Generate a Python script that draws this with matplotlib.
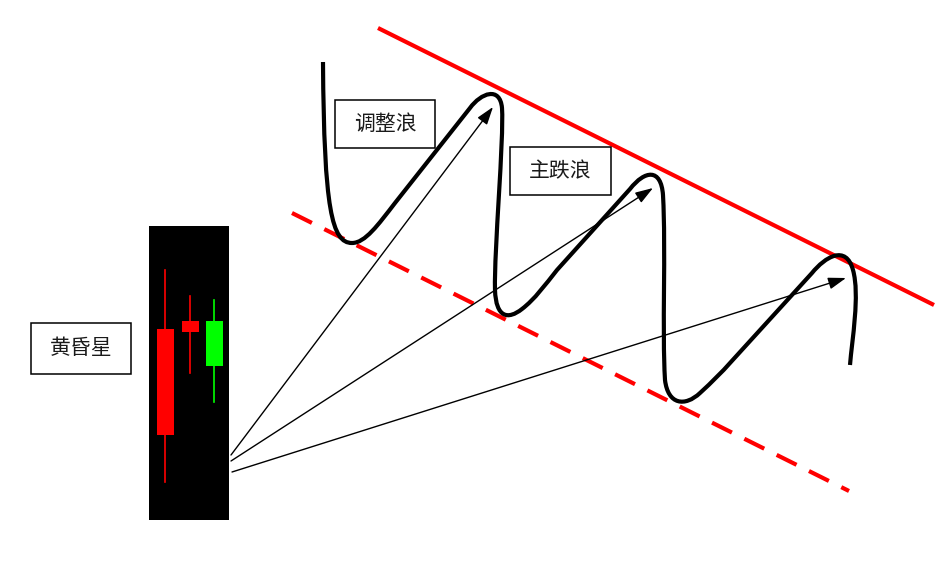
import matplotlib
matplotlib.use("Agg")
import matplotlib.pyplot as plt
from matplotlib.path import Path
from matplotlib.patches import Rectangle, PathPatch

plt.rcParams['font.family'] = ['Noto Sans CJK SC', 'DejaVu Sans']
plt.rcParams['lines.scale_dashes'] = False

# candles: (x centre, wick top, wick bottom, body top, body bottom, colour), pixel units
candle_x = [165, 190, 214]
wick_top = [270, 296, 300]
wick_bottom = [482, 373, 402]
body_top = [329, 321, 321]
body_bottom = [435, 332, 366]
candle_colors = ['#ff0000', '#ff0000', '#00ff00']
body_width = 17

# trend lines
upper_line = [(378, 28), (934, 305)]
lower_line = [(292, 213), (849, 491)]

# arrows from the evening star to the wave tops
arrow_starts = [(231, 455), (231, 461), (232, 472)]
arrow_ends = [(493, 107), (653, 188), (846, 278)]

# labels: text, box (x0, y0, x1, y1)
labels = ['黄昏星', '调整浪', '主跌浪']
label_boxes = [(31, 323, 131, 374), (335, 100, 435, 148), (510, 147, 611, 195)]

# wave path (start point, then bezier / line segments)
wave_start = (323, 62)
wave_segments = [
    ('C', (324, 210), (332, 243), (352, 243)),
    ('C', (365, 243), (378, 225), (395, 203)),
    ('L', (470, 108)),
    ('C', (481, 93), (500, 86), (502, 108)),
    ('C', (504, 140), (494, 250), (495, 290)),
    ('C', (496, 318), (508, 320), (522, 309)),
    ('C', (535, 299), (545, 285), (557, 270)),
    ('L', (630, 189)),
    ('C', (645, 170), (661, 168), (663, 195)),
    ('C', (666, 250), (662, 330), (665, 380)),
    ('C', (668, 405), (685, 407), (700, 393)),
    ('C', (712, 382), (722, 372), (730, 363)),
    ('L', (812, 273)),
    ('C', (825, 257), (846, 244), (853, 270)),
    ('C', (860, 295), (852, 340), (850, 365)),
]

fig = plt.figure(figsize=(9.44, 5.67), dpi=100)
ax = fig.add_axes([0, 0, 1, 1])
ax.set_xlim(0, 944)
ax.set_ylim(567, 0)
ax.axis('off')

# black background of the candles
ax.add_patch(Rectangle((149, 226), 80, 294, facecolor='black', edgecolor='none', zorder=1))
for x, wt, wb, bt, bb, c in zip(candle_x, wick_top, wick_bottom, body_top, body_bottom, candle_colors):
    ax.plot([x, x], [wt, wb], color=c, lw=1.2, zorder=2)
    ax.add_patch(Rectangle((x - body_width / 2, bt), body_width, bb - bt,
                           facecolor=c, edgecolor='none', zorder=3))

# trend lines
ax.plot(*zip(*upper_line), color='#ff0000', lw=3, solid_capstyle='butt', zorder=2)
ax.plot(*zip(*lower_line), color='#ff0000', lw=3, dashes=(16, 10),
        dash_capstyle='butt', zorder=2)

# wave
verts = [wave_start]
codes = [Path.MOVETO]
for seg in wave_segments:
    if seg[0] == 'L':
        verts.append(seg[1])
        codes.append(Path.LINETO)
    else:
        verts.extend(seg[1:])
        codes.extend([Path.CURVE4] * 3)
ax.add_patch(PathPatch(Path(verts, codes), facecolor='none', edgecolor='black',
                       lw=3, capstyle='butt', zorder=4))

# arrows
for s, e in zip(arrow_starts, arrow_ends):
    ax.annotate('', xy=e, xytext=s,
                arrowprops=dict(arrowstyle='-|>,head_length=0.6,head_width=0.2',
                                mutation_scale=18, color='black', lw=1,
                                shrinkA=0, shrinkB=0), zorder=5)

# label boxes
for t, (x0, y0, x1, y1) in zip(labels, label_boxes):
    ax.add_patch(Rectangle((x0, y0), x1 - x0, y1 - y0, facecolor='white',
                           edgecolor='black', lw=1.1, zorder=6))
    ax.text((x0 + x1) / 2, (y0 + y1) / 2, t, ha='center', va='center',
            fontsize=15, color='#1a1a1a', zorder=7)

fig.savefig('out.png', dpi=100)
